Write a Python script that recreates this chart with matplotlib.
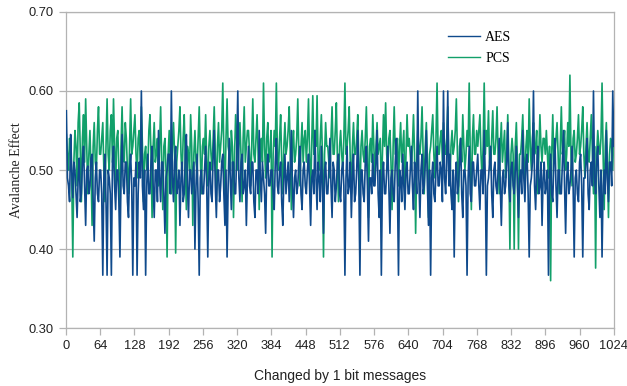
import numpy as np
from matplotlib import pyplot as plt

# one value every 2 messages, one row per 64-message tick interval
aes = [
    0.575, 0.49, 0.48, 0.46, 0.545, 0.50, 0.465, 0.51, 0.50, 0.47, 0.44, 0.49, 0.515, 0.46, 0.47, 0.51,
    0.53, 0.48, 0.43, 0.50, 0.505, 0.47, 0.48, 0.515, 0.52, 0.46, 0.41, 0.49, 0.51, 0.47, 0.46, 0.50,
    0.50, 0.47, 0.367, 0.49, 0.52, 0.46, 0.367, 0.50, 0.49, 0.47, 0.367, 0.51, 0.53, 0.48, 0.45, 0.50,
    0.50, 0.46, 0.39, 0.49, 0.545, 0.48, 0.47, 0.51, 0.51, 0.46, 0.44, 0.50, 0.52, 0.48, 0.367, 0.49,
    0.48, 0.51, 0.367, 0.47, 0.51, 0.49, 0.60, 0.48, 0.45, 0.50, 0.367, 0.48, 0.52, 0.47, 0.47, 0.51,
    0.53, 0.48, 0.44, 0.50, 0.50, 0.46, 0.55, 0.49, 0.46, 0.51, 0.51, 0.47, 0.42, 0.49, 0.50, 0.52,
    0.52, 0.47, 0.60, 0.49, 0.46, 0.51, 0.53, 0.47, 0.48, 0.50, 0.43, 0.49, 0.51, 0.46, 0.47, 0.52,
    0.545, 0.48, 0.44, 0.50, 0.50, 0.47, 0.49, 0.51, 0.40, 0.48, 0.52, 0.46, 0.367, 0.49, 0.50, 0.47,
    0.47, 0.50, 0.53, 0.48, 0.39, 0.49, 0.51, 0.47, 0.46, 0.52, 0.55, 0.48, 0.44, 0.50, 0.50, 0.46,
    0.48, 0.51, 0.52, 0.47, 0.43, 0.50, 0.39, 0.48, 0.54, 0.49, 0.45, 0.51, 0.51, 0.47, 0.47, 0.52,
    0.60, 0.49, 0.46, 0.51, 0.52, 0.47, 0.48, 0.50, 0.43, 0.49, 0.53, 0.48, 0.47, 0.51, 0.51, 0.46,
    0.44, 0.50, 0.50, 0.47, 0.55, 0.49, 0.46, 0.51, 0.49, 0.47, 0.42, 0.50, 0.52, 0.48, 0.48, 0.50,
    0.50, 0.47, 0.45, 0.51, 0.54, 0.48, 0.47, 0.50, 0.51, 0.46, 0.43, 0.49, 0.52, 0.47, 0.49, 0.51,
    0.46, 0.50, 0.55, 0.48, 0.44, 0.49, 0.50, 0.47, 0.48, 0.51, 0.53, 0.47, 0.45, 0.50, 0.51, 0.48,
    0.47, 0.50, 0.52, 0.48, 0.43, 0.49, 0.50, 0.47, 0.55, 0.49, 0.45, 0.51, 0.49, 0.46, 0.53, 0.48,
    0.42, 0.50, 0.51, 0.47, 0.47, 0.50, 0.54, 0.48, 0.44, 0.51, 0.50, 0.46, 0.48, 0.51, 0.52, 0.47,
    0.46, 0.50, 0.51, 0.48, 0.367, 0.49, 0.53, 0.47, 0.48, 0.51, 0.44, 0.49, 0.52, 0.46, 0.47, 0.50,
    0.55, 0.48, 0.367, 0.50, 0.50, 0.47, 0.46, 0.51, 0.53, 0.48, 0.41, 0.49, 0.49, 0.47, 0.52, 0.48,
    0.48, 0.51, 0.55, 0.47, 0.44, 0.50, 0.367, 0.49, 0.51, 0.47, 0.47, 0.50, 0.53, 0.48, 0.42, 0.49,
    0.50, 0.47, 0.46, 0.51, 0.54, 0.48, 0.367, 0.50, 0.49, 0.46, 0.52, 0.48, 0.45, 0.50, 0.51, 0.47,
    0.47, 0.50, 0.53, 0.48, 0.45, 0.51, 0.50, 0.47, 0.60, 0.49, 0.44, 0.50, 0.52, 0.47, 0.48, 0.51,
    0.55, 0.48, 0.43, 0.50, 0.367, 0.49, 0.51, 0.47, 0.46, 0.50, 0.53, 0.48, 0.48, 0.51, 0.50, 0.46,
    0.60, 0.49, 0.47, 0.51, 0.60, 0.48, 0.52, 0.47, 0.45, 0.50, 0.39, 0.49, 0.51, 0.47, 0.48, 0.51,
    0.54, 0.47, 0.44, 0.50, 0.50, 0.48, 0.367, 0.49, 0.53, 0.47, 0.46, 0.51, 0.51, 0.48, 0.48, 0.50,
    0.52, 0.48, 0.45, 0.50, 0.50, 0.47, 0.55, 0.49, 0.367, 0.48, 0.49, 0.51, 0.53, 0.47, 0.44, 0.50,
    0.51, 0.48, 0.47, 0.50, 0.54, 0.48, 0.43, 0.49, 0.50, 0.47, 0.48, 0.51, 0.56, 0.48, 0.46, 0.50,
    0.51, 0.48, 0.47, 0.50, 0.53, 0.48, 0.44, 0.49, 0.50, 0.47, 0.55, 0.49, 0.46, 0.51, 0.52, 0.47,
    0.39, 0.48, 0.49, 0.51, 0.60, 0.48, 0.45, 0.50, 0.53, 0.47, 0.48, 0.51, 0.43, 0.49, 0.51, 0.47,
    0.48, 0.50, 0.367, 0.49, 0.52, 0.47, 0.46, 0.51, 0.54, 0.48, 0.44, 0.50, 0.50, 0.47, 0.47, 0.51,
    0.55, 0.48, 0.42, 0.49, 0.51, 0.47, 0.48, 0.50, 0.53, 0.48, 0.39, 0.49, 0.50, 0.47, 0.46, 0.51,
    0.52, 0.48, 0.39, 0.49, 0.49, 0.51, 0.54, 0.47, 0.45, 0.50, 0.51, 0.48, 0.60, 0.49, 0.47, 0.51,
    0.53, 0.48, 0.44, 0.50, 0.39, 0.48, 0.50, 0.47, 0.55, 0.49, 0.46, 0.51, 0.51, 0.48, 0.60, 0.53,
]

pcs = [
    0.545, 0.52, 0.50, 0.54, 0.53, 0.49, 0.39, 0.51, 0.55, 0.53, 0.48, 0.56, 0.585, 0.52, 0.46, 0.54,
    0.57, 0.51, 0.59, 0.53, 0.47, 0.52, 0.55, 0.50, 0.43, 0.53, 0.56, 0.51, 0.50, 0.55, 0.58, 0.52,
    0.52, 0.54, 0.56, 0.50, 0.46, 0.53, 0.59, 0.52, 0.50, 0.55, 0.57, 0.51, 0.59, 0.53, 0.48, 0.54,
    0.55, 0.50, 0.44, 0.53, 0.58, 0.52, 0.51, 0.56, 0.54, 0.50, 0.47, 0.53, 0.59, 0.52, 0.53, 0.55,
    0.57, 0.52, 0.49, 0.54, 0.55, 0.51, 0.58, 0.53, 0.46, 0.52, 0.53, 0.50, 0.50, 0.55, 0.57, 0.52,
    0.44, 0.53, 0.56, 0.51, 0.52, 0.54, 0.48, 0.53, 0.58, 0.51, 0.45, 0.53, 0.54, 0.50, 0.39, 0.52,
    0.55, 0.51, 0.47, 0.53, 0.56, 0.52, 0.395, 0.51, 0.53, 0.55, 0.58, 0.52, 0.49, 0.54, 0.57, 0.51,
    0.45, 0.53, 0.52, 0.50, 0.57, 0.53, 0.43, 0.52, 0.55, 0.51, 0.50, 0.54, 0.58, 0.52, 0.47, 0.53,
    0.54, 0.52, 0.57, 0.51, 0.48, 0.53, 0.55, 0.52, 0.50, 0.54, 0.58, 0.52, 0.46, 0.53, 0.56, 0.51,
    0.53, 0.55, 0.61, 0.52, 0.47, 0.54, 0.59, 0.53, 0.52, 0.50, 0.55, 0.53, 0.44, 0.52, 0.57, 0.54,
    0.50, 0.53, 0.56, 0.52, 0.46, 0.54, 0.58, 0.51, 0.53, 0.55, 0.55, 0.52, 0.48, 0.53, 0.59, 0.52,
    0.51, 0.54, 0.57, 0.52, 0.45, 0.53, 0.54, 0.51, 0.61, 0.53, 0.49, 0.54, 0.56, 0.51, 0.52, 0.55,
    0.39, 0.52, 0.55, 0.53, 0.61, 0.52, 0.50, 0.54, 0.57, 0.51, 0.47, 0.53, 0.56, 0.52, 0.53, 0.55,
    0.58, 0.52, 0.45, 0.53, 0.55, 0.51, 0.52, 0.54, 0.59, 0.52, 0.48, 0.53, 0.56, 0.51, 0.54, 0.55,
    0.51, 0.54, 0.59, 0.52, 0.47, 0.53, 0.594, 0.52, 0.55, 0.53, 0.594, 0.51, 0.50, 0.54, 0.57, 0.52,
    0.39, 0.52, 0.56, 0.53, 0.53, 0.51, 0.49, 0.54, 0.58, 0.52, 0.52, 0.55, 0.585, 0.51, 0.46, 0.53,
    0.55, 0.52, 0.50, 0.54, 0.61, 0.52, 0.53, 0.55, 0.58, 0.51, 0.47, 0.53, 0.56, 0.52, 0.52, 0.54,
    0.57, 0.51, 0.46, 0.53, 0.55, 0.52, 0.51, 0.54, 0.58, 0.52, 0.44, 0.53, 0.54, 0.51, 0.57, 0.53,
    0.49, 0.53, 0.56, 0.52, 0.53, 0.54, 0.47, 0.52, 0.57, 0.53, 0.585, 0.52, 0.50, 0.54, 0.55, 0.51,
    0.45, 0.53, 0.58, 0.52, 0.52, 0.54, 0.48, 0.53, 0.56, 0.51, 0.53, 0.55, 0.46, 0.52, 0.57, 0.53,
    0.54, 0.52, 0.50, 0.53, 0.57, 0.52, 0.42, 0.51, 0.55, 0.53, 0.52, 0.54, 0.58, 0.52, 0.47, 0.53,
    0.56, 0.51, 0.44, 0.52, 0.53, 0.55, 0.57, 0.52, 0.49, 0.54, 0.61, 0.52, 0.52, 0.54, 0.55, 0.51,
    0.56, 0.53, 0.52, 0.54, 0.58, 0.51, 0.48, 0.53, 0.55, 0.52, 0.53, 0.55, 0.59, 0.52, 0.46, 0.53,
    0.54, 0.51, 0.57, 0.53, 0.50, 0.52, 0.55, 0.53, 0.61, 0.52, 0.45, 0.54, 0.57, 0.52, 0.52, 0.55,
    0.53, 0.55, 0.57, 0.52, 0.49, 0.53, 0.61, 0.52, 0.55, 0.53, 0.575, 0.51, 0.50, 0.54, 0.575, 0.52,
    0.52, 0.54, 0.58, 0.52, 0.47, 0.53, 0.56, 0.51, 0.53, 0.55, 0.49, 0.52, 0.57, 0.51, 0.40, 0.52,
    0.54, 0.52, 0.40, 0.53, 0.56, 0.51, 0.40, 0.52, 0.52, 0.54, 0.57, 0.52, 0.48, 0.53, 0.55, 0.51,
    0.59, 0.53, 0.50, 0.54, 0.56, 0.52, 0.53, 0.55, 0.47, 0.52, 0.57, 0.53, 0.51, 0.54, 0.54, 0.52,
    0.55, 0.52, 0.49, 0.53, 0.36, 0.52, 0.57, 0.51, 0.52, 0.54, 0.56, 0.52, 0.47, 0.53, 0.58, 0.52,
    0.53, 0.55, 0.50, 0.52, 0.56, 0.53, 0.62, 0.52, 0.48, 0.54, 0.55, 0.51, 0.52, 0.54, 0.57, 0.52,
    0.53, 0.55, 0.58, 0.52, 0.49, 0.53, 0.56, 0.52, 0.51, 0.54, 0.57, 0.52, 0.47, 0.53, 0.376, 0.52,
    0.55, 0.53, 0.52, 0.54, 0.61, 0.52, 0.45, 0.53, 0.56, 0.51, 0.44, 0.52, 0.54, 0.53, 0.50, 0.55,
]

x_ticks = list(range(0, 1025, 64))
y_ticks = [0.30, 0.40, 0.50, 0.60, 0.70]

sans = ['Liberation Sans', 'DejaVu Sans']
serif = ['Liberation Serif', 'DejaVu Serif']
grey = '#b3b3b3'

x = np.linspace(1, 1024, len(aes))

fig = plt.figure(figsize=(6.27, 3.86), dpi=100)
ax = fig.add_axes([0.105, 0.150, 0.874, 0.819])

ax.plot(x, pcs, color='#12a06a', lw=1.2, label='PCS', zorder=2)
ax.plot(x, aes, color='#0f4a8c', lw=1.2, label='AES', zorder=3)

ax.set_xlim(0, 1024)
ax.set_ylim(0.30, 0.70)
ax.set_xticks(x_ticks)
ax.set_yticks(y_ticks)
ax.set_yticklabels(['{:.2f}'.format(v) for v in y_ticks])
ax.yaxis.grid(True, color=grey, lw=0.9)
ax.set_axisbelow(True)
for sp in ax.spines.values():
    sp.set_color(grey)
    sp.set_linewidth(0.9)
ax.tick_params(colors=grey, length=5, width=0.9, labelcolor='#222222', labelsize=9.3)
for lab in ax.get_xticklabels() + ax.get_yticklabels():
    lab.set_family(sans)

ax.set_xlabel('Changed by 1 bit messages', family=sans, fontsize=10, color='#222222', labelpad=12)
ax.set_ylabel('Avalanche Effect', family=serif, fontsize=10, color='#222222', labelpad=4)

handles, labels = ax.get_legend_handles_labels()
leg = ax.legend(handles[::-1], labels[::-1], loc='upper left', bbox_to_anchor=(0.675, 0.98),
                frameon=False, handlelength=2.3, handletextpad=0.35, labelspacing=0.6,
                prop={'family': serif, 'size': 10})
for line in leg.get_lines():
    line.set_linewidth(1.0)

fig.savefig('out.png', dpi=100)
